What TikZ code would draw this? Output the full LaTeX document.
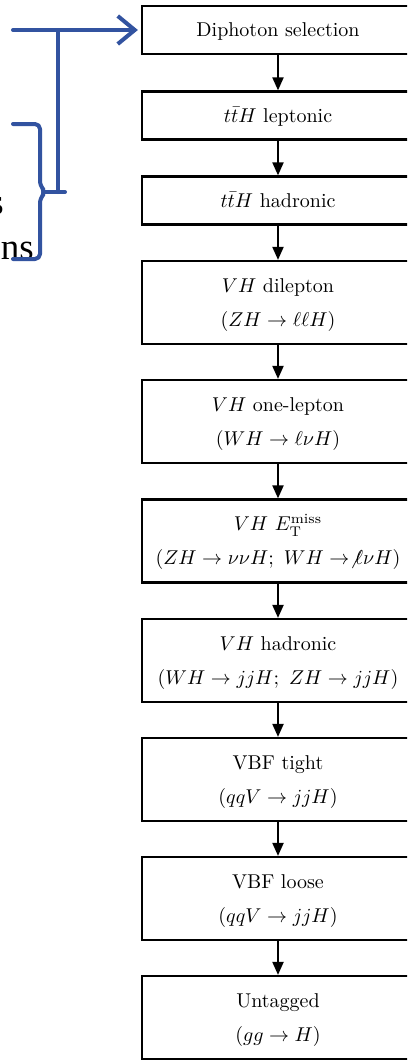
\documentclass[tikz,border=0pt]{standalone}
\usepackage{fontspec}
\usepackage{graphicx}
\usetikzlibrary{arrows.meta}
\newfontfamily\sideserif{Liberation Serif}
\definecolor{flowblue}{RGB}{50,83,160}
% stage text: 10pt type with 17pt lines, drawn at twice its size
\newcommand{\stagetext}[1]{\scalebox{2}{\fontsize{10}{17}\selectfont\begin{tabular}{@{}c@{}}#1\end{tabular}}}
\begin{document}
\begin{tikzpicture}[x=1pt,y=-1pt,
  stagebox/.style={draw=black, line width=2.2pt, fill=white, minimum width=272pt,
    inner sep=0pt},
  smallbox/.style={stagebox, minimum height=48pt},
  bigbox/.style={stagebox, minimum height=83pt},
  flow/.style={line width=2pt, -{Triangle[length=13pt,width=11pt]}},
  bluepath/.style={draw=flowblue, line width=4pt, line cap=round, line join=round},
  sidetext/.style={font=\sideserif\fontsize{37}{40}\selectfont, inner sep=0pt, anchor=base east}]
\useasboundingbox (0,0) rectangle (407,1060);
\clip (0,0) rectangle (407,1060);

% selection chain
\node[smallbox] (dipho) at (278,30)    {\stagetext{Diphoton selection}};
\node[smallbox] (tthl)  at (278,115.5) {\stagetext{$t\bar{t}H$ leptonic}};
\node[smallbox] (tthh)  at (278,200.5) {\stagetext{$t\bar{t}H$ hadronic}};
\node[bigbox]   (vhdl)  at (278,302.5) {\stagetext{$VH$ dilepton\\$(ZH\rightarrow \ell\ell H)$}};
\node[bigbox]   (vhol)  at (278,421.5) {\stagetext{$VH$ one-lepton\\$(WH\rightarrow \ell\nu H)$}};
\node[bigbox]   (vhmet) at (278,541)   {\stagetext{$VH$ $E_{\mathrm{T}}^{\mathrm{miss}}$\\$(ZH\rightarrow \nu\nu H;\ WH\rightarrow \not\ell\nu H)$}};
\node[bigbox]   (vhhad) at (278,660.5) {\stagetext{$VH$ hadronic\\$(WH\rightarrow jjH;\ ZH\rightarrow jjH)$}};
\node[bigbox]   (vbft)  at (278,779.5) {\stagetext{VBF tight\\$(qqV\rightarrow jjH)$}};
\node[bigbox]   (vbfl)  at (278,898.5) {\stagetext{VBF loose\\$(qqV\rightarrow jjH)$}};
\node[bigbox]   (untag) at (278,1017.5){\stagetext{Untagged\\$(gg\rightarrow H)$}};

\foreach \a/\b in {dipho/tthl, tthl/tthh, tthh/vhdl, vhdl/vhol, vhol/vhmet,
                   vhmet/vhhad, vhhad/vbft, vbft/vbfl, vbfl/untag}
  \draw[flow] (\a.south) -- (\b.north);

% side labels
\node[sidetext] (lab1) at (4,214) {s};
\node[sidetext] (lab2) at (34,259) {ns};

% blue bracket feeding the first stage
\coordinate (feed) at (13,30);
\coordinate (knee) at (58,30);
\coordinate (tip)  at (65,192);
\draw[bluepath, shorten >=3pt, -{Straight Barb[length=17pt,width=28pt]}] (feed) -- (dipho.west);
\draw[bluepath] (knee) -- (58,192);
\draw[bluepath, rounded corners=5pt] (13,124) -- (40,124) -- (40,186) -- (46,192)
  -- (40,198) -- (40,259) -- (13,259);
\draw[bluepath] (43,192) -- (tip);
\end{tikzpicture}
\end{document}
